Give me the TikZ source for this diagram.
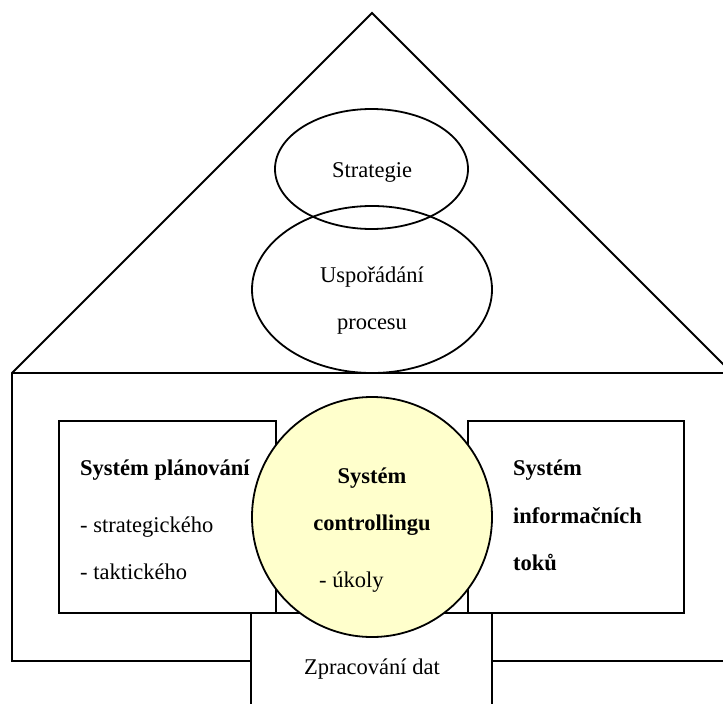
\documentclass[tikz,border=0pt]{standalone}
\usepackage{fontspec}
\setmainfont{Liberation Serif}
\usetikzlibrary{shapes.geometric}
\definecolor{paleyellow}{HTML}{FFFFCC}
\begin{document}
\begin{tikzpicture}[x=1bp,y=-1bp,
  outline/.style={draw=black, line width=1.8bp},
  panel/.style={outline, fill=white, rectangle, inner sep=0pt},
  oval/.style={outline, ellipse, inner sep=0pt},
  txt/.style={inner sep=0pt, font=\fontsize{22.5bp}{27bp}\selectfont},
  btxt/.style={inner sep=0pt, font=\fontsize{22.5bp}{27bp}\selectfont\bfseries}]
\useasboundingbox (0,0) rectangle (723,704);
\clip (0,0) rectangle (723,704);

% house: roof and body
\draw[outline, line join=miter] (12,661) -- (12,373) -- (372,13) -- (732,373) -- (732,661) -- cycle;
\draw[outline] (12,373) -- (732,373);

% roof ovals
\node[oval, minimum width=193bp, minimum height=120bp] (strat) at (371.5,169) {};
\node[oval, minimum width=240bp, minimum height=167bp] (proc) at (372,289.5) {};
\node[txt, anchor=base] (stratT) at (372,177) {Strategie};
\node[txt, anchor=base] (procA) at (372,282) {Uspořádání};
\node[txt, anchor=base] (procB) at (372,329) {procesu};

% side panels
\node[panel, minimum width=217bp, minimum height=192bp] (plan) at (167.5,517) {};
\node[panel, minimum width=216bp, minimum height=192bp] (info) at (576,517) {};
\node[btxt, anchor=base west] (planA) at (80,475) {Systém plánování};
\node[txt, anchor=base west] (planB) at (80,532) {- strategického};
\node[txt, anchor=base west] (planC) at (80,579) {- taktického};
\node[btxt, anchor=base west] (infoA) at (513,475) {Systém};
\node[btxt, anchor=base west] (infoB) at (513,523) {informačních};
\node[btxt, anchor=base west] (infoC) at (513,570) {toků};

% data processing base
\node[panel, minimum width=241bp, minimum height=110bp] (data) at (371.5,668) {};
\node[txt, anchor=base] (dataT) at (372,674) {Zpracování dat};

% controlling core
\node[outline, circle, fill=paleyellow, minimum size=240bp, inner sep=0pt] (core) at (372,517) {};
\node[btxt, anchor=base] (coreA) at (372,483) {Systém};
\node[btxt, anchor=base] (coreB) at (372,530) {controllingu};
\node[txt, anchor=base west] (coreC) at (319,587) {- úkoly};
\end{tikzpicture}
\end{document}
